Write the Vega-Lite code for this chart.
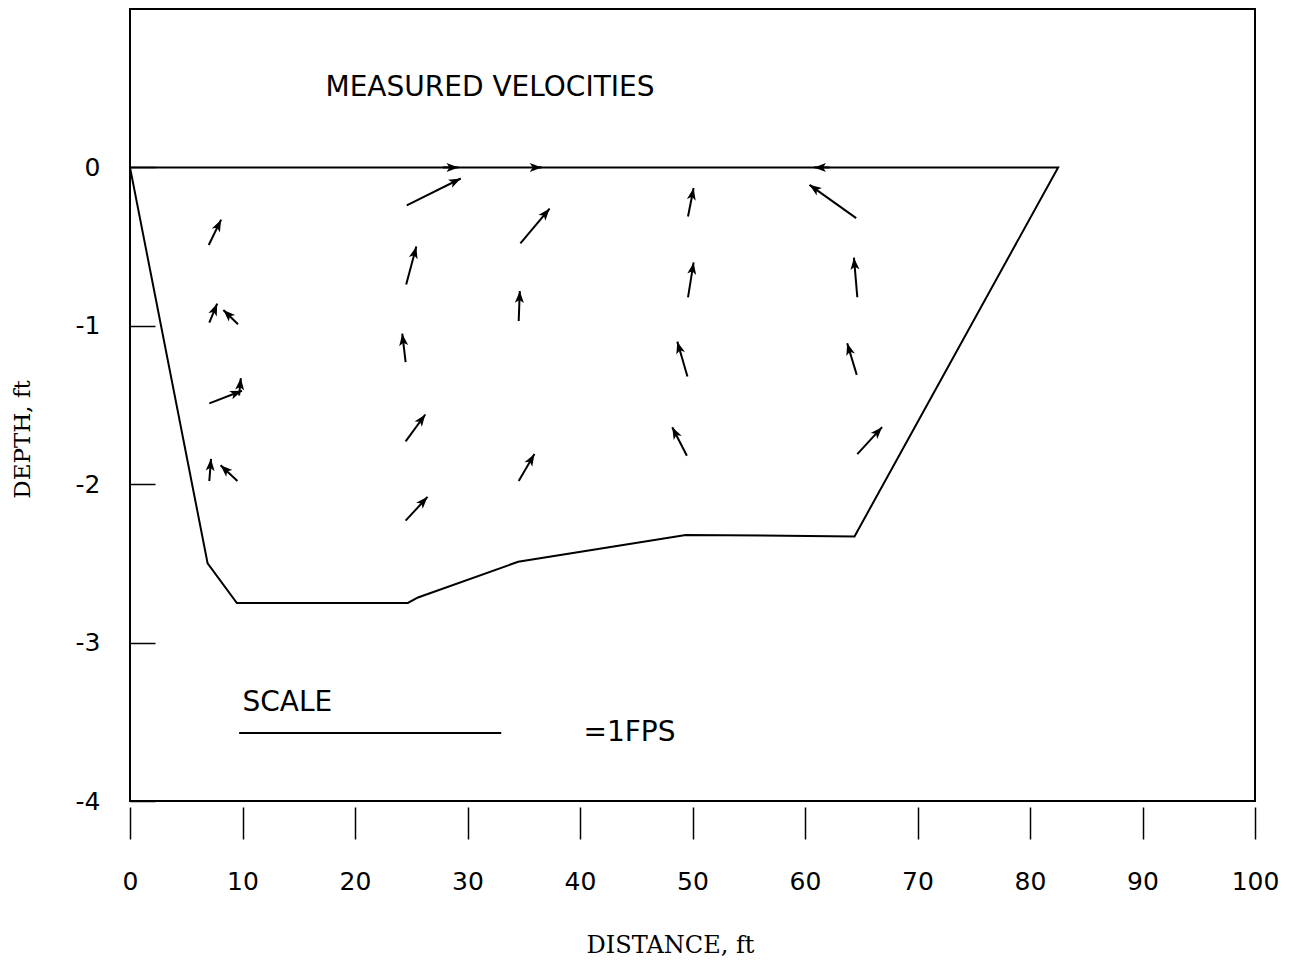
{
  "$schema": "https://vega.github.io/schema/vega-lite/v6.json",
  "width": 1125,
  "height": 792,
  "autosize": "none",
  "padding": {"left": 130, "top": 9, "right": 50, "bottom": 171},
  "background": "white",
  "config": {
    "view": {"stroke": "black", "strokeWidth": 2},
    "axis": {"grid": false, "domain": false, "tickColor": "black", "labelColor": "black", "titleColor": "black", "tickWidth": 1.5}
  },
  "datasets": {
    "outline": [
      {"seq": 1, "dist": 0, "depth": 0},
      {"seq": 2, "dist": 6.9, "depth": -2.5},
      {"seq": 3, "dist": 9.5, "depth": -2.75},
      {"seq": 4, "dist": 24.7, "depth": -2.75},
      {"seq": 5, "dist": 25.6, "depth": -2.715},
      {"seq": 6, "dist": 34.5, "depth": -2.49},
      {"seq": 7, "dist": 49.4, "depth": -2.32},
      {"seq": 8, "dist": 64.4, "depth": -2.33},
      {"seq": 9, "dist": 82.5, "depth": 0},
      {"seq": 10, "dist": 0, "depth": 0}
    ],
    "arrows": [
      {"x": 7.0, "y": -0.49, "x2": 8.1, "y2": -0.33},
      {"x": 7.05, "y": -0.98, "x2": 7.75, "y2": -0.86},
      {"x": 9.6, "y": -0.99, "x2": 8.3, "y2": -0.9},
      {"x": 7.05, "y": -1.49, "x2": 9.95, "y2": -1.41},
      {"x": 9.7, "y": -1.44, "x2": 9.85, "y2": -1.33},
      {"x": 7.05, "y": -1.98, "x2": 7.2, "y2": -1.84},
      {"x": 9.55, "y": -1.98, "x2": 8.05, "y2": -1.88},
      {"x": 24.6, "y": -0.24, "x2": 29.4, "y2": -0.07},
      {"x": 24.55, "y": -0.74, "x2": 25.45, "y2": -0.5},
      {"x": 24.5, "y": -1.23, "x2": 24.2, "y2": -1.05},
      {"x": 24.5, "y": -1.73, "x2": 26.25, "y2": -1.56},
      {"x": 24.5, "y": -2.23, "x2": 26.45, "y2": -2.08},
      {"x": 34.7, "y": -0.48, "x2": 37.3, "y2": -0.26},
      {"x": 34.55, "y": -0.97, "x2": 34.65, "y2": -0.78},
      {"x": 34.55, "y": -1.98, "x2": 35.95, "y2": -1.81},
      {"x": 49.6, "y": -0.31, "x2": 50.1, "y2": -0.13},
      {"x": 49.6, "y": -0.82, "x2": 50.1, "y2": -0.6},
      {"x": 49.55, "y": -1.32, "x2": 48.65, "y2": -1.1},
      {"x": 49.5, "y": -1.82, "x2": 48.2, "y2": -1.64},
      {"x": 64.55, "y": -0.32, "x2": 60.4, "y2": -0.11},
      {"x": 64.65, "y": -0.82, "x2": 64.35, "y2": -0.57},
      {"x": 64.6, "y": -1.31, "x2": 63.75, "y2": -1.11},
      {"x": 64.65, "y": -1.81, "x2": 66.85, "y2": -1.64},
      {"x": 27.8, "y": 0, "x2": 29.2, "y2": 0},
      {"x": 35.9, "y": 0, "x2": 36.6, "y2": 0},
      {"x": 62.2, "y": 0, "x2": 60.8, "y2": 0}
    ],
    "scalebar": [{"x": 9.7, "x2": 33.0, "y": -3.57}],
    "textCenter": [
      {"t": "MEASURED VELOCITIES", "x": 32.0, "y": 0.5},
      {"t": "=1FPS", "x": 44.4, "y": -3.57}
    ],
    "textLeft": [
      {"t": "SCALE", "x": 10.0, "y": -3.38}
    ]
  },
  "layer": [
    {
      "data": {"name": "outline"},
      "mark": {"type": "line", "color": "black", "strokeWidth": 2},
      "encoding": {
        "x": {
          "field": "dist", "type": "quantitative",
          "scale": {"domain": [0, 100], "nice": false, "zero": false},
          "axis": {
            "values": [0, 10, 20, 30, 40, 50, 60, 70, 80, 90, 100],
            "offset": 6, "tickSize": 32, "labelPadding": 30,
            "labelFont": "DejaVu Sans", "labelFontSize": 25, "labelFlush": false,
            "title": "DISTANCE, ft", "titleFont": "DejaVu Serif", "titleFontSize": 24, "titleFontWeight": "normal",
            "titleX": 540, "titleY": 138, "titleAlign": "center", "titleBaseline": "middle"
          }
        },
        "y": {
          "field": "depth", "type": "quantitative",
          "scale": {"domain": [-4, 1], "nice": false, "zero": false},
          "axis": {
            "values": [0, -1, -2, -3, -4],
            "tickSize": -25, "labelPadding": 55,
            "labelExpr": "datum.value + ''",
            "labelFont": "DejaVu Sans", "labelFontSize": 25,
            "title": "DEPTH, ft", "titleFont": "DejaVu Serif", "titleFontSize": 23, "titleFontWeight": "normal",
            "titleX": -108, "titleY": 430, "titleAngle": 270, "titleAlign": "center", "titleBaseline": "middle"
          }
        },
        "order": {"field": "seq", "type": "quantitative"}
      }
    },
    {
      "data": {"name": "arrows"},
      "mark": {"type": "rule", "color": "black", "strokeWidth": 2},
      "encoding": {
        "x": {"field": "x", "type": "quantitative"},
        "y": {"field": "y", "type": "quantitative"},
        "x2": {"field": "x2"},
        "y2": {"field": "y2"}
      }
    },
    {
      "data": {"name": "arrows"},
      "transform": [
        {"calculate": "atan2((datum.x2 - datum.x) * 11.25, (datum.y2 - datum.y) * 158.4) * 180 / PI", "as": "ang"}
      ],
      "mark": {"type": "point", "shape": "M0,0L-0.75,2L0,1.5L0.75,2Z", "filled": true, "size": 144, "color": "black", "opacity": 1, "strokeWidth": 0},
      "encoding": {
        "x": {"field": "x2", "type": "quantitative"},
        "y": {"field": "y2", "type": "quantitative"},
        "angle": {"field": "ang", "type": "quantitative", "scale": null}
      }
    },
    {
      "data": {"name": "scalebar"},
      "mark": {"type": "rule", "color": "black", "strokeWidth": 2},
      "encoding": {
        "x": {"field": "x", "type": "quantitative"},
        "x2": {"field": "x2"},
        "y": {"field": "y", "type": "quantitative"}
      }
    },
    {
      "data": {"name": "textCenter"},
      "mark": {"type": "text", "font": "DejaVu Sans", "fontSize": 28, "color": "black", "align": "center", "baseline": "middle"},
      "encoding": {
        "x": {"field": "x", "type": "quantitative"},
        "y": {"field": "y", "type": "quantitative"},
        "text": {"field": "t"}
      }
    },
    {
      "data": {"name": "textLeft"},
      "mark": {"type": "text", "font": "DejaVu Sans", "fontSize": 28, "color": "black", "align": "left", "baseline": "middle"},
      "encoding": {
        "x": {"field": "x", "type": "quantitative"},
        "y": {"field": "y", "type": "quantitative"},
        "text": {"field": "t"}
      }
    }
  ]
}
